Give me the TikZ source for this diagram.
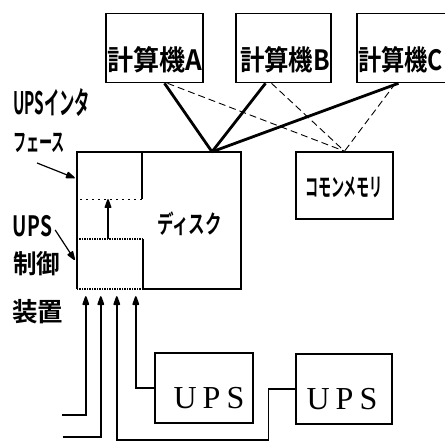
\documentclass[tikz,border=0pt]{standalone}
\usepackage{fontspec}
\usepackage{graphicx}
\newfontfamily\jp{Noto Sans CJK JP Bold}
\newfontfamily\upsf{Liberation Serif}
\usetikzlibrary{calc}
\newcommand\fitw[2]{\resizebox{#1}{\height}{#2}}
\begin{document}
\begin{tikzpicture}[x=1pt,y=1pt,
  box/.style={draw,line width=1.6pt,inner sep=0pt},
  region/.style={inner sep=0pt},
  jt/.style={inner sep=0pt},
  ut/.style={inner sep=0pt,font=\upsf\fontsize{32}{32}\selectfont},
  bus/.style={line width=2.8pt},
  dl/.style={line width=0.9pt,dash pattern=on 7pt off 4pt},
  outline/.style={line width=1.6pt},
  densedot/.style={line width=1.5pt,dash pattern=on 1.5pt off 1pt},
  sparsedot/.style={line width=1.2pt,dash pattern=on 2.5pt off 3.5pt},
  arr/.style={line width=1.4pt,shorten >=5pt},
  larr/.style={line width=1.2pt,shorten >=5pt},
  tipr/.pic={\filldraw[line width=1.6pt,line join=round] (-0.8,0) -- (-8,2.6) -- (-8,-2.6) -- cycle;}]
\useasboundingbox (0,0) rectangle (445,-441);

% computers
\node[box,minimum width=97pt,minimum height=69pt] (A) at (154.5,-48) {};
\node[box,minimum width=95pt,minimum height=69pt] (B) at (283.5,-48) {};
\node[box,minimum width=95pt,minimum height=69pt] (C) at (404.5,-48) {};
\node[jt,font=\jp\fontsize{28}{28}\selectfont] (tA) at (154.5,-59.5) {\fitw{95pt}{計算機A}};
\node[jt,font=\jp\fontsize{28}{28}\selectfont] (tB) at (285,-59.5) {\fitw{90pt}{計算機B}};
\node[jt,font=\jp\fontsize{28}{28}\selectfont] (tC) at (400.5,-59.5) {\fitw{85pt}{計算機C}};

% disk
\node[region,minimum width=164pt,minimum height=137pt] (disk) at (159,-220.5) {};
\node[region,minimum width=65pt,minimum height=47pt] (iface) at (109.5,-175.5) {};
\node[region,minimum width=66pt,minimum height=50pt] (ctrl) at (110,-264) {};
\draw[outline] (disk.south west) -- (disk.north west) -- (disk.north east) -- (disk.south east) -- (ctrl.south east);
\draw[densedot] (ctrl.south east) -- (ctrl.south west);
\draw[outline] (iface.north east) -- (iface.south east);
\draw[sparsedot] ($(iface.south west)+(3,0)$) -- (iface.south east);
\draw[densedot] (ctrl.north west) -- (ctrl.north east);
\draw[outline] (ctrl.north east) -- (ctrl.south east);
\draw[arr] ($(ctrl.north)+(-2,0)$) -- ($(iface.south)+(-1.5,0)$);
\pic[rotate=90] at ($(iface.south)+(-1.5,0)$) {tipr};
\node[jt,font=\jp\fontsize{25}{25}\selectfont] (tDisk) at (189.5,-224) {\fitw{65pt}{ディスク}};

% common memory
\node[box,minimum width=97pt,minimum height=67pt] (mem) at (344.5,-185.5) {};
\node[jt,font=\jp\fontsize{25}{25}\selectfont] (tMem) at (344,-187) {\fitw{78pt}{コモンメモリ}};

% connections from computers
\coordinate (dj) at ($(disk.north)+(53,0)$);
\draw[bus] ($(A.south)+(10,0)$) -- (dj);
\draw[bus] ($(B.south)+(-18,0)$) -- (dj);
\draw[bus] ($(C.south)+(-6,0)$) -- (dj);
\draw[dl] ($(A.south)+(13,0)$) -- (mem.north);
\draw[dl] ($(B.south)+(-12,0)$) -- (mem.north);
\draw[dl] ($(C.south)+(-9,0)$) -- (mem.north);

% left labels
\node[jt,font=\jp\fontsize{31}{31}\selectfont] (tIf1) at (51.5,-103) {\fitw{77pt}{UPSインタ}};
\node[jt,font=\jp\fontsize{25}{25}\selectfont] (tIf2) at (39,-143) {\fitw{52pt}{フェース}};
\node[jt,font=\jp\fontsize{28}{28}\selectfont] (tUps) at (32.5,-226) {\fitw{39pt}{UPS}};
\node[jt,font=\jp\fontsize{26}{26}\selectfont] (tC1) at (36.5,-263.5) {\fitw{47pt}{制御}};
\node[jt,font=\jp\fontsize{26}{26}\selectfont] (tC2) at (37.5,-311.5) {\fitw{51pt}{装置}};
\draw[larr] ($(tIf2.south)+(-2,-10)$) -- ($(iface.west)+(-2,-2.5)$);
\pic[rotate=-21.5] at ($(iface.west)+(-2,-2.5)$) {tipr};
\draw[larr] ($(tUps.east)+(3,-4)$) -- ($(ctrl.west)+(-2,4)$);
\pic[rotate=-56.3] at ($(ctrl.west)+(-2,4)$) {tipr};

% UPS units
\node[box,minimum width=98pt,minimum height=70pt] (ups1) at (204,-388) {};
\node[box,minimum width=96pt,minimum height=70pt] (ups2) at (344,-389) {};
\node[ut] (tU1) at (209,-398) {U\hspace{6pt}P\hspace{6pt}S};
\node[ut] (tU2) at (342,-399) {U\hspace{6pt}P\hspace{6pt}S};

% supply lines
\coordinate (in1) at (62,-415);
\coordinate (in2) at (63,-437);
\draw[arr] (in1) -| ($(ctrl.south west)+(9,-7)$);
\pic[rotate=90] at ($(ctrl.south west)+(9,-7)$) {tipr};
\draw[arr] (in2) -| ($(ctrl.south west)+(24,-7)$);
\pic[rotate=90] at ($(ctrl.south west)+(24,-7)$) {tipr};
\draw[arr] (ups2.west) -- ++(-27,0) -- ++(0,-51) -| ($(ctrl.south west)+(40,-7)$);
\pic[rotate=90] at ($(ctrl.south west)+(40,-7)$) {tipr};
\draw[arr] (ups1.west) -| ($(ctrl.south west)+(59,-7)$);
\pic[rotate=90] at ($(ctrl.south west)+(59,-7)$) {tipr};
\end{tikzpicture}
\end{document}
